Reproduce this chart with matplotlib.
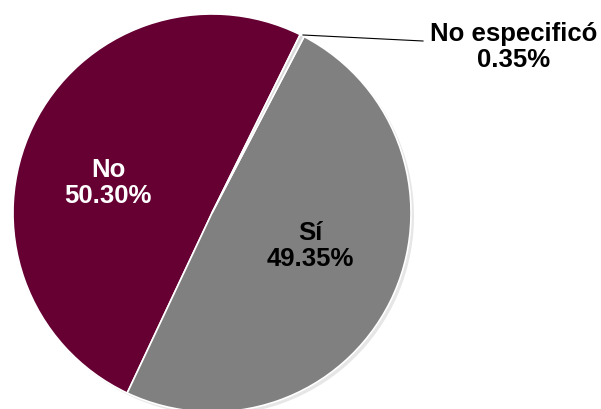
import matplotlib.pyplot as plt

categories = ["No", "Sí", "No especificó"]
shares = [50.30, 49.35, 0.35]
colors = ["#660033", "#808080", "#d9d9d9"]
text_colors = ["white", "black", "black"]

W, H = 601, 409
fig = plt.figure(figsize=(W / 100, H / 100), dpi=100)
ax = fig.add_axes([0, 0, 1, 1])

plt.rcParams["font.family"] = ["Liberation Sans", "DejaVu Sans"]

cx, cy, r = 212, H - 213, 199

# faint shadow
ax.pie(shares, radius=r, center=(cx + 3, cy - 3), startangle=63.7,
       colors=["#e6e6e6"] * 3, wedgeprops=dict(linewidth=0), frame=True)
wedges, _ = ax.pie(shares, radius=r, center=(cx, cy), startangle=63.7,
                   colors=colors, wedgeprops=dict(edgecolor="white", linewidth=1.2),
                   frame=True)
ax.set_xlim(0, W)
ax.set_ylim(0, H)
ax.set_aspect("equal")
ax.axis("off")

# label positions (pixel coords from top-left)
label_pos = [(108, 183), (310, 246), (514, 47)]
for cat, val, tc, (px, py) in zip(categories, shares, text_colors, label_pos):
    ax.text(px, H - py, f"{cat}\n{val:.2f}%", ha="center", va="center",
            fontsize=18.5, fontweight="bold", color=tc, linespacing=1.15)

# leader line for the small slice
ax.plot([303, 423], [H - 35, H - 41], color="black", linewidth=0.8)

fig.savefig("out.png", dpi=100)
